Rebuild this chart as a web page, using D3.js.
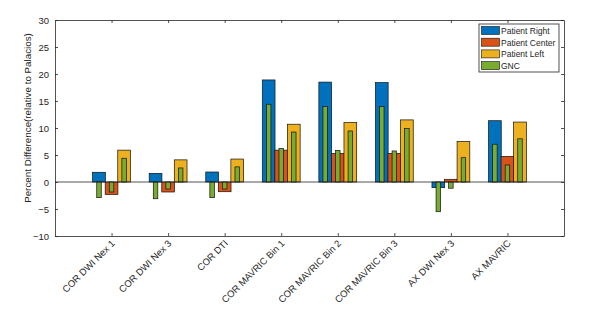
<!DOCTYPE html>
<html>
<head>
<meta charset="utf-8">
<script src="https://cdn.jsdelivr.net/npm/d3@7"></script>
<style>
  body { margin: 0; background: #fff; }
  text { font-family: Arial, "Liberation Sans", sans-serif; fill: #262626; }
</style>
</head>
<body>
<div id="chart"></div>
<script>
// categories and values
const categories = ["COR DWI Nex 1", "COR DWI Nex 3", "COR DTI", "COR MAVRIC Bin 1",
    "COR MAVRIC Bin 2", "COR MAVRIC Bin 3", "AX DWI Nex 3", "AX MAVRIC"];
const seriesNames = ["Patient Right", "Patient Center", "Patient Left"];
const patientRight = [1.8, 1.6, 1.85, 18.9, 18.5, 18.4, -1.05, 11.35];
const patientCenter = [-2.3, -1.85, -1.8, 5.9, 5.3, 5.3, 0.5, 4.75];
const patientLeft = [5.9, 4.1, 4.25, 10.7, 11.0, 11.5, 7.5, 11.1];
// GNC values, one per patient position
const gncRight = [-2.9, -3.1, -2.9, 14.4, 14.0, 14.0, -5.5, 7.0];
const gncCenter = [-1.85, -1.3, -1.3, 6.2, 5.85, 5.75, -1.15, 3.15];
const gncLeft = [4.4, 2.6, 2.8, 9.25, 9.45, 9.9, 4.5, 8.0];
const yTicks = [-10, -5, 0, 5, 10, 15, 20, 25, 30];
const colors = ["#0072BD", "#D95319", "#EDB120", "#77AC30"];

const W = 595, H = 314;
const margin = { top: 20, right: 31, bottom: 78, left: 55 };

const svg = d3.select("#chart").append("svg")
    .attr("width", W).attr("height", H);

const x = d3.scaleLinear().domain([0, 9]).range([margin.left, W - margin.right]);
const y = d3.scaleLinear().domain([-10, 30]).range([H - margin.bottom, margin.top]);

const offsets = [-0.222, 0, 0.222];
const wideW = x(0.225) - x(0);
const thinW = x(0.08) - x(0);

const main = [patientRight, patientCenter, patientLeft];
const gnc = [gncRight, gncCenter, gncLeft];

// wide bars
main.forEach((vals, s) => {
    svg.append("g").selectAll("rect")
        .data(vals)
        .join("rect")
        .attr("x", (d, i) => x(i + 1 + offsets[s]) - wideW / 2)
        .attr("width", wideW)
        .attr("y", d => y(Math.max(0, d)))
        .attr("height", d => Math.abs(y(d) - y(0)))
        .attr("fill", colors[s])
        .attr("stroke", "#111")
        .attr("stroke-width", 0.7);
});

// narrow GNC bars
gnc.forEach((vals, s) => {
    svg.append("g").selectAll("rect")
        .data(vals)
        .join("rect")
        .attr("x", (d, i) => x(i + 1 + offsets[s]) - thinW / 2)
        .attr("width", thinW)
        .attr("y", d => y(Math.max(0, d)))
        .attr("height", d => Math.abs(y(d) - y(0)))
        .attr("fill", colors[3])
        .attr("stroke", "#111")
        .attr("stroke-width", 0.7);
});

// baseline
svg.append("line")
    .attr("x1", x(0)).attr("x2", x(9))
    .attr("y1", y(0)).attr("y2", y(0))
    .attr("stroke", "#262626").attr("stroke-width", 0.8);

// axes (MATLAB style box with inward ticks)
const tickLen = -3;
const xTickVals = d3.range(1, categories.length + 1);
svg.append("g")
    .attr("transform", `translate(0,${y(-10)})`)
    .call(d3.axisBottom(x).tickValues(xTickVals).tickSize(tickLen).tickSizeOuter(0).tickFormat(""));
svg.append("g")
    .attr("transform", `translate(0,${y(30)})`)
    .call(d3.axisTop(x).tickValues(xTickVals).tickSize(tickLen).tickSizeOuter(0).tickFormat(""));
svg.append("g")
    .attr("transform", `translate(${x(0)},0)`)
    .call(d3.axisLeft(y).tickValues(yTicks).tickSize(tickLen).tickSizeOuter(0).tickPadding(6));
svg.append("g")
    .attr("transform", `translate(${x(9)},0)`)
    .call(d3.axisRight(y).tickValues(yTicks).tickSize(tickLen).tickSizeOuter(0).tickFormat(""));

svg.selectAll(".domain, .tick line").attr("stroke", "#262626").attr("stroke-width", 0.8);
svg.selectAll(".tick text").attr("font-size", 9.5).attr("fill", "#262626")
    .style("font-family", "Arial, 'Liberation Sans', sans-serif");

// rotated category labels
svg.append("g").selectAll("text")
    .data(categories)
    .join("text")
    .attr("transform", (d, i) => `translate(${x(i + 1) + 4},${y(-10) + 8}) rotate(-45)`)
    .attr("text-anchor", "end")
    .attr("font-size", 9.5)
    .text(d => d);

// y label
svg.append("text")
    .attr("transform", `translate(31,${(y(30) + y(-10)) / 2 - 10}) rotate(-90)`)
    .attr("text-anchor", "middle")
    .attr("font-size", 9.8)
    .text("Percent Difference(relative to Palacios)");

// legend
const legNames = seriesNames.concat(["GNC"]);
const leg = svg.append("g").attr("transform", "translate(479,24)");
leg.append("rect")
    .attr("width", 80).attr("height", 48)
    .attr("fill", "#fff").attr("stroke", "#262626").attr("stroke-width", 0.8);
legNames.forEach((n, i) => {
    leg.append("rect")
        .attr("x", 2.5).attr("y", 2.5 + i * 11.7)
        .attr("width", 18).attr("height", 8)
        .attr("fill", colors[i]).attr("stroke", "#111").attr("stroke-width", 0.6);
    leg.append("text")
        .attr("x", 22).attr("y", 10 + i * 11.7)
        .attr("font-size", 8.5)
        .text(n);
});
</script>
</body>
</html>
